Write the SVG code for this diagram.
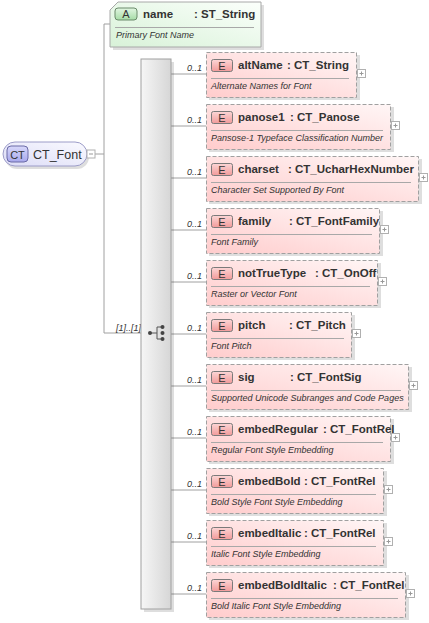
<svg xmlns="http://www.w3.org/2000/svg" width="429" height="623" viewBox="0 0 429 623">
<style>
text{font-family:"Liberation Sans",Arial,sans-serif;fill:#333}
.shadow{fill:#000;opacity:.13}
.ebox{fill:url(#gE);stroke:#a0a0a0;stroke-width:1;stroke-dasharray:4,2}
.ebadge{fill:url(#gEB);stroke:#7a7a7a;stroke-width:1}
.bt{font-size:11px;text-anchor:middle}
.nm{font-size:11.5px;font-weight:bold}
.div{stroke:#a8a8a8;stroke-width:1}
.desc{font-size:9px;font-style:italic}
.plus{fill:#fff;stroke:#b0b0b0;stroke-width:1}
.pm{stroke:#999;stroke-width:1;fill:none}
.conn{stroke:#a0a0a0;stroke-width:1;fill:none}
.card{font-size:9px;font-style:italic}
</style>
<defs>
<linearGradient id="gE" x1="1" y1="0" x2="0" y2="1"><stop offset="0" stop-color="#fff6f6"/><stop offset="1" stop-color="#ffcccc"/></linearGradient>
<linearGradient id="gEB" x1="0" y1="0" x2="0" y2="1"><stop offset="0" stop-color="#fcd6d6"/><stop offset="1" stop-color="#f19a9a"/></linearGradient>
<linearGradient id="gA" x1="1" y1="0" x2="0" y2="1"><stop offset="0" stop-color="#fbfffb"/><stop offset="1" stop-color="#d8f2d8"/></linearGradient>
<linearGradient id="gAB" x1="0" y1="0" x2="0" y2="1"><stop offset="0" stop-color="#e2f6e2"/><stop offset="1" stop-color="#a6dca6"/></linearGradient>
<linearGradient id="gC" x1="1" y1="0" x2="0" y2="1"><stop offset="0" stop-color="#fafaff"/><stop offset="1" stop-color="#dcdcf6"/></linearGradient>
<linearGradient id="gCB" x1="0" y1="0" x2="0" y2="1"><stop offset="0" stop-color="#d8d8fa"/><stop offset="1" stop-color="#a8a8ec"/></linearGradient>
<linearGradient id="gS" x1="0" y1="0" x2="1" y2="0"><stop offset="0" stop-color="#f6f6f6"/><stop offset="1" stop-color="#d6d6d6"/></linearGradient>
</defs>

<g id="connectors">
<path class="conn" d="M95 154H104M104 24H110M104 24V333H141"/>
<text class="card" x="116" y="331">[1]..[1]</text>
<path class="conn" d="M171 74H206M171 126H206M171 178H206M171 230H206M171 282H206M171 334H206M171 386H206M171 438H206M171 490H206M171 542H206M171 594H206"/>
<text class="card" x="187" y="71">0..1</text>
<text class="card" x="187" y="123">0..1</text>
<text class="card" x="187" y="175">0..1</text>
<text class="card" x="187" y="227">0..1</text>
<text class="card" x="187" y="279">0..1</text>
<text class="card" x="187" y="331">0..1</text>
<text class="card" x="187" y="383">0..1</text>
<text class="card" x="187" y="435">0..1</text>
<text class="card" x="187" y="487">0..1</text>
<text class="card" x="187" y="539">0..1</text>
<text class="card" x="187" y="591">0..1</text>
</g>

<g id="CT_Font">
<rect class="shadow" x="5" y="145" width="84" height="24" rx="12"/>
<rect x="3" y="142" width="84" height="24" rx="12" fill="url(#gC)" stroke="#9c9cc8"/>
<rect x="7" y="146" width="21" height="16" rx="4" fill="url(#gCB)" stroke="#6a6aa6"/>
<text x="17.5" y="158.5" font-size="11px" text-anchor="middle">CT</text>
<text x="33" y="159" font-size="12.5px">CT_Font</text>
<rect class="plus" x="87" y="150" width="8" height="8"/>
<path class="pm" d="M89 154H93"/>
</g>

<g id="attr-name">
<path class="shadow" d="M121 5H264V50H113V13Z"/>
<path d="M118 2H261V47H110V10Z" fill="url(#gA)" stroke="#a8a8a8"/>
<rect x="115" y="8" width="22" height="12" rx="3" fill="url(#gAB)" stroke="#6a8a6a"/>
<text class="bt" x="126" y="18">A</text>
<text class="nm" x="143" y="18">name</text>
<text class="nm" x="194" y="18">: ST_String</text>
<line class="div" x1="115" y1="27.5" x2="254" y2="27.5"/>
<text class="desc" x="116" y="38">Primary Font Name</text>
</g>

<g id="sequence">
<rect class="shadow" x="144" y="62" width="30" height="550"/>
<rect x="141" y="59" width="30" height="550" fill="url(#gS)" stroke="#a0a0a0"/>
<path d="M150 333H157M157 327V339M157 327H162M157 339H162" stroke="#555" fill="none"/>
<circle cx="150" cy="333" r="2" fill="#444"/>
<circle cx="162.5" cy="327" r="2" fill="#444"/>
<circle cx="162.5" cy="333" r="2" fill="#444"/>
<circle cx="162.5" cy="339" r="2" fill="#444"/>
</g>

<g id="el-altName">
<rect class="shadow" x="209" y="55" width="151" height="45"/>
<rect class="ebox" x="206.5" y="52.5" width="150" height="45"/>
<rect class="ebadge" x="211.5" y="59.5" width="21" height="12" rx="2"/>
<text class="bt" x="222" y="69.5">E</text>
<text class="nm" x="238" y="69">altName</text>
<text class="nm" x="287" y="69">: CT_String</text>
<line class="div" x1="211" y1="78.5" x2="349" y2="78.5"/>
<text class="desc" x="211" y="89">Alternate Names for Font</text>
<rect class="plus" x="357.5" y="69.5" width="8" height="8"/>
<path class="pm" d="M359.5 73.5H363.5M361.5 71.5V75.5"/>
</g>

<g id="el-panose1">
<rect class="shadow" x="209" y="107" width="185" height="45"/>
<rect class="ebox" x="206.5" y="104.5" width="184" height="45"/>
<rect class="ebadge" x="211.5" y="111.5" width="21" height="12" rx="2"/>
<text class="bt" x="222" y="121.5">E</text>
<text class="nm" x="238" y="121">panose1</text>
<text class="nm" x="290" y="121">: CT_Panose</text>
<line class="div" x1="211" y1="130.5" x2="383" y2="130.5"/>
<text class="desc" x="211" y="141">Pansose-1 Typeface Classification Number</text>
<rect class="plus" x="391.5" y="121.5" width="8" height="8"/>
<path class="pm" d="M393.5 125.5H397.5M395.5 123.5V127.5"/>
</g>

<g id="el-charset">
<rect class="shadow" x="209" y="159" width="213" height="45"/>
<rect class="ebox" x="206.5" y="156.5" width="212" height="45"/>
<rect class="ebadge" x="211.5" y="163.5" width="21" height="12" rx="2"/>
<text class="bt" x="222" y="173.5">E</text>
<text class="nm" x="238" y="173">charset</text>
<text class="nm" x="288" y="173">: CT_UcharHexNumber</text>
<line class="div" x1="211" y1="182.5" x2="411" y2="182.5"/>
<text class="desc" x="211" y="193">Character Set Supported By Font</text>
<rect class="plus" x="419.5" y="173.5" width="8" height="8"/>
<path class="pm" d="M421.5 177.5H425.5M423.5 175.5V179.5"/>
</g>

<g id="el-family">
<rect class="shadow" x="209" y="211" width="174" height="45"/>
<rect class="ebox" x="206.5" y="208.5" width="173" height="45"/>
<rect class="ebadge" x="211.5" y="215.5" width="21" height="12" rx="2"/>
<text class="bt" x="222" y="225.5">E</text>
<text class="nm" x="238" y="225">family</text>
<text class="nm" x="289" y="225">: CT_FontFamily</text>
<line class="div" x1="211" y1="234.5" x2="372" y2="234.5"/>
<text class="desc" x="211" y="245">Font Family</text>
<rect class="plus" x="380.5" y="225.5" width="8" height="8"/>
<path class="pm" d="M382.5 229.5H386.5M384.5 227.5V231.5"/>
</g>

<g id="el-notTrueType">
<rect class="shadow" x="209" y="263" width="172" height="45"/>
<rect class="ebox" x="206.5" y="260.5" width="171" height="45"/>
<rect class="ebadge" x="211.5" y="267.5" width="21" height="12" rx="2"/>
<text class="bt" x="222" y="277.5">E</text>
<text class="nm" x="238" y="277">notTrueType</text>
<text class="nm" x="315" y="277">: CT_OnOff</text>
<line class="div" x1="211" y1="286.5" x2="370" y2="286.5"/>
<text class="desc" x="211" y="297">Raster or Vector Font</text>
<rect class="plus" x="378.5" y="277.5" width="8" height="8"/>
<path class="pm" d="M380.5 281.5H384.5M382.5 279.5V283.5"/>
</g>

<g id="el-pitch">
<rect class="shadow" x="209" y="315" width="146" height="45"/>
<rect class="ebox" x="206.5" y="312.5" width="145" height="45"/>
<rect class="ebadge" x="211.5" y="319.5" width="21" height="12" rx="2"/>
<text class="bt" x="222" y="329.5">E</text>
<text class="nm" x="238" y="329">pitch</text>
<text class="nm" x="289" y="329">: CT_Pitch</text>
<line class="div" x1="211" y1="338.5" x2="344" y2="338.5"/>
<text class="desc" x="211" y="349">Font Pitch</text>
<rect class="plus" x="352.5" y="329.5" width="8" height="8"/>
<path class="pm" d="M354.5 333.5H358.5M356.5 331.5V335.5"/>
</g>

<g id="el-sig">
<rect class="shadow" x="209" y="367" width="203" height="45"/>
<rect class="ebox" x="206.5" y="364.5" width="202" height="45"/>
<rect class="ebadge" x="211.5" y="371.5" width="21" height="12" rx="2"/>
<text class="bt" x="222" y="381.5">E</text>
<text class="nm" x="238" y="381">sig</text>
<text class="nm" x="290" y="381">: CT_FontSig</text>
<line class="div" x1="211" y1="390.5" x2="401" y2="390.5"/>
<text class="desc" x="211" y="401">Supported Unicode Subranges and Code Pages</text>
<rect class="plus" x="409.5" y="381.5" width="8" height="8"/>
<path class="pm" d="M411.5 385.5H415.5M413.5 383.5V387.5"/>
</g>

<g id="el-embedRegular">
<rect class="shadow" x="209" y="419" width="185" height="45"/>
<rect class="ebox" x="206.5" y="416.5" width="184" height="45"/>
<rect class="ebadge" x="211.5" y="423.5" width="21" height="12" rx="2"/>
<text class="bt" x="222" y="433.5">E</text>
<text class="nm" x="238" y="433">embedRegular</text>
<text class="nm" x="323" y="433">: CT_FontRel</text>
<line class="div" x1="211" y1="442.5" x2="383" y2="442.5"/>
<text class="desc" x="211" y="453">Regular Font Style Embedding</text>
<rect class="plus" x="391.5" y="433.5" width="8" height="8"/>
<path class="pm" d="M393.5 437.5H397.5M395.5 435.5V439.5"/>
</g>

<g id="el-embedBold">
<rect class="shadow" x="209" y="471" width="178" height="45"/>
<rect class="ebox" x="206.5" y="468.5" width="177" height="45"/>
<rect class="ebadge" x="211.5" y="475.5" width="21" height="12" rx="2"/>
<text class="bt" x="222" y="485.5">E</text>
<text class="nm" x="238" y="485">embedBold</text>
<text class="nm" x="304" y="485">: CT_FontRel</text>
<line class="div" x1="211" y1="494.5" x2="376" y2="494.5"/>
<text class="desc" x="211" y="505">Bold Style Font Style Embedding</text>
<rect class="plus" x="384.5" y="485.5" width="8" height="8"/>
<path class="pm" d="M386.5 489.5H390.5M388.5 487.5V491.5"/>
</g>

<g id="el-embedItalic">
<rect class="shadow" x="209" y="523" width="178" height="45"/>
<rect class="ebox" x="206.5" y="520.5" width="177" height="45"/>
<rect class="ebadge" x="211.5" y="527.5" width="21" height="12" rx="2"/>
<text class="bt" x="222" y="537.5">E</text>
<text class="nm" x="238" y="537">embedItalic</text>
<text class="nm" x="304" y="537">: CT_FontRel</text>
<line class="div" x1="211" y1="546.5" x2="376" y2="546.5"/>
<text class="desc" x="211" y="557">Italic Font Style Embedding</text>
<rect class="plus" x="384.5" y="537.5" width="8" height="8"/>
<path class="pm" d="M386.5 541.5H390.5M388.5 539.5V543.5"/>
</g>

<g id="el-embedBoldItalic">
<rect class="shadow" x="209" y="575" width="200" height="45"/>
<rect class="ebox" x="206.5" y="572.5" width="199" height="45"/>
<rect class="ebadge" x="211.5" y="579.5" width="21" height="12" rx="2"/>
<text class="bt" x="222" y="589.5">E</text>
<text class="nm" x="238" y="589">embedBoldItalic</text>
<text class="nm" x="333" y="589">: CT_FontRel</text>
<line class="div" x1="211" y1="598.5" x2="398" y2="598.5"/>
<text class="desc" x="211" y="609">Bold Italic Font Style Embedding</text>
<rect class="plus" x="406.5" y="589.5" width="8" height="8"/>
<path class="pm" d="M408.5 593.5H412.5M410.5 591.5V595.5"/>
</g>
</svg>
